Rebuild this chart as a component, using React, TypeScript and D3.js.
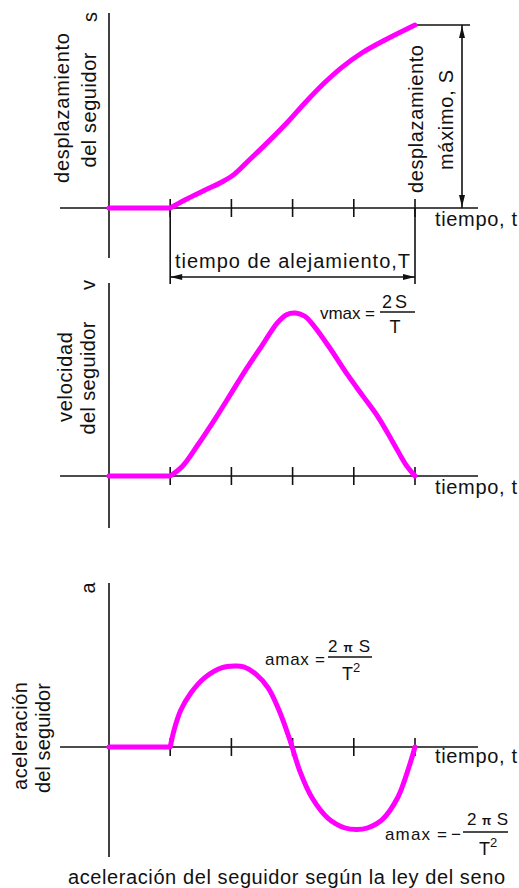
import React from "react";
import * as d3 from "d3";

// Time axis (in quarter-periods of the rise, T spans t = 1 .. 5)
const tickTimes = [1, 2, 3, 4, 5];

// Follower displacement, as a fraction of the maximum rise S
const dispT = [0, 1, 1.24, 1.57, 1.86, 2.05, 2.3, 2.55, 2.92, 3.2, 3.53, 3.81, 4.13, 4.51, 5.0];
const dispS = [0, 0, 0.044, 0.098, 0.145, 0.185, 0.265, 0.345, 0.47, 0.574, 0.687, 0.77, 0.847, 0.918, 1.0];

// Follower velocity, as a fraction of vmax
const velT = [0, 1, 1.2, 1.45, 1.75, 2.0, 2.25, 2.5, 2.75, 2.9, 3.05, 3.2, 3.35, 3.6, 3.9, 4.15, 4.4, 4.65, 4.85, 5.0];
const velV = [0, 0, 0.06, 0.19, 0.36, 0.51, 0.66, 0.8, 0.94, 0.99, 1.0, 0.98, 0.92, 0.79, 0.62, 0.49, 0.36, 0.2, 0.07, 0];

// Follower acceleration, as a fraction of amax
const accT = [0, 1, 1.06, 1.17, 1.34, 1.57, 1.85, 2.05, 2.2, 2.4, 2.6, 2.78, 2.95, 3.12, 3.32, 3.58, 3.86, 4.05, 4.22, 4.46, 4.72, 4.9, 5.0];
const accA = [0, 0, 0.2, 0.45, 0.67, 0.86, 0.98, 1.0, 0.99, 0.9, 0.73, 0.45, 0.1, -0.3, -0.63, -0.88, -1.0, -1.02, -1.0, -0.9, -0.62, -0.25, 0];

const W = 519;
const H = 888;
const FONT = "'Liberation Sans', Arial, sans-serif";
const MAGENTA = "#ff00ff";
const INK = "#111";

const x = d3.scaleLinear().domain([0, 5]).range([109, 415]);
const yDisp = d3.scaleLinear().domain([0, 1]).range([208, 25]);
const yVel = d3.scaleLinear().domain([0, 1]).range([476, 313]);
const yAcc = d3.scaleLinear().domain([-1, 1]).range([828, 666]);

const xLeft = x(-0.8);
const xRight = x(6.03);

// Dwell (straight, while the follower rests) followed by a smooth rise curve
function curvePath(ts: number[], vs: number[], y: d3.ScaleLinear<number, number>) {
  const pts = ts.map((t, i) => [t, vs[i]] as [number, number]);
  const dwell = pts.filter((p) => p[0] <= 1);
  const rise = pts.filter((p) => p[0] >= 1);
  const straight = d3
    .line<[number, number]>()
    .x((d) => x(d[0]))
    .y((d) => y(d[1]))(dwell) as string;
  const smooth = d3
    .line<[number, number]>()
    .x((d) => x(d[0]))
    .y((d) => y(d[1]))
    .curve(d3.curveCatmullRom.alpha(0.5))(rise) as string;
  return straight + smooth.replace(/^M/, "L");
}

type TxtProps = {
  x: number;
  y: number;
  len?: number;
  size?: number;
  rot?: boolean;
  anchor?: "start" | "middle" | "end";
  children: React.ReactNode;
};

function Txt({ x: tx, y: ty, len, size = 20, rot, anchor = "start", children }: TxtProps) {
  return (
    <text
      transform={`translate(${tx},${ty})${rot ? " rotate(-90)" : ""}`}
      fontFamily={FONT}
      fontSize={size}
      fill={INK}
      textAnchor={anchor}
      textLength={len}
      lengthAdjust={len ? "spacing" : undefined}
    >
      {children}
    </text>
  );
}

function Panel({ y0, yTop, yBottom }: { y0: number; yTop: number; yBottom: number }) {
  return (
    <g stroke={INK} strokeWidth={1.6} fill="none">
      <line x1={x(0)} x2={x(0)} y1={yTop} y2={yBottom} />
      <line x1={xLeft} x2={xRight} y1={y0} y2={y0} />
      {tickTimes.map((t) => (
        <line key={t} x1={x(t)} x2={x(t)} y1={y0 - 9} y2={y0 + 9} />
      ))}
    </g>
  );
}

const curveStyle = {
  stroke: MAGENTA,
  strokeWidth: 5,
  fill: "none",
  strokeLinecap: "round" as const,
  strokeLinejoin: "round" as const,
};

export default function App() {
  const y0d = yDisp(0);
  const y0v = yVel(0);
  const y0a = yAcc(0);
  const dimY = 277;
  const sTop = yDisp(1);
  const dimX = 462;

  return (
    <svg
      width={W}
      height={H}
      viewBox={`0 0 ${W} ${H}`}
      style={{ position: "absolute", left: 0, top: 0, background: "#fff" }}
    >
      <rect width={W} height={H} fill="#fff" />

      {/* Displacement panel */}
      <Panel y0={y0d} yTop={13} yBottom={258} />
      <g stroke={INK} strokeWidth={1.6} fill="none">
        {/* extension lines for the rise period T */}
        <line x1={x(1)} x2={x(1)} y1={y0d} y2={284} />
        <line x1={x(5)} x2={x(5)} y1={y0d} y2={284} />
        <line x1={x(1)} x2={x(5)} y1={dimY} y2={dimY} />
        {/* dimension for the maximum rise S */}
        <line x1={x(5)} x2={470} y1={sTop} y2={sTop} />
        <line x1={dimX} x2={dimX} y1={sTop} y2={y0d} />
      </g>
      <g fill={INK}>
        <path d={`M${x(1)},${dimY} l12,-3 l0,6 Z`} />
        <path d={`M${x(5)},${dimY} l-12,-3 l0,6 Z`} />
        <path d={`M${dimX},${sTop + 1} l-3,12 l6,0 Z`} />
        <path d={`M${dimX},${y0d - 1} l-3,-12 l6,0 Z`} />
      </g>
      <path d={curvePath(dispT, dispS, yDisp)} {...curveStyle} />

      <Txt x={97} y={17} rot anchor="middle">s</Txt>
      <Txt x={69} y={108} rot anchor="middle" len={150}>desplazamiento</Txt>
      <Txt x={96} y={110} rot anchor="middle" len={115}>del seguidor</Txt>
      <Txt x={423} y={119} rot anchor="middle" len={148}>desplazamiento</Txt>
      <Txt x={453} y={120} rot anchor="middle" len={100}>máximo, S</Txt>
      <Txt x={435} y={226} len={82}>tiempo, t</Txt>
      <Txt x={175} y={268} len={235}>tiempo de alejamiento,T</Txt>

      {/* Velocity panel */}
      <Panel y0={y0v} yTop={283} yBottom={528} />
      <path d={curvePath(velT, velV, yVel)} {...curveStyle} />
      <Txt x={95} y={285} rot anchor="middle">v</Txt>
      <Txt x={72} y={377} rot anchor="middle" len={90}>velocidad</Txt>
      <Txt x={95} y={378} rot anchor="middle" len={113}>del seguidor</Txt>
      <Txt x={435} y={494} len={82}>tiempo, t</Txt>
      <Txt x={320} y={319} len={55} size={17}>vmax =</Txt>
      <Txt x={382} y={308} len={25} size={18}>2S</Txt>
      <line x1={380} x2={415} y1={312} y2={312} stroke={INK} strokeWidth={1.5} />
      <Txt x={395} y={333} anchor="middle" size={18}>T</Txt>

      {/* Acceleration panel */}
      <Panel y0={y0a} yTop={583} yBottom={857} />
      <path d={curvePath(accT, accA, yAcc)} {...curveStyle} />
      <Txt x={95} y={588} rot anchor="middle">a</Txt>
      <Txt x={27} y={736} rot anchor="middle" len={108}>aceleración</Txt>
      <Txt x={50} y={738} rot anchor="middle" len={110}>del seguidor</Txt>
      <Txt x={435} y={763} len={82}>tiempo, t</Txt>

      <Txt x={265} y={665} len={60} size={17}>amax =</Txt>
      <Txt x={328} y={652} len={42} size={17}>
        2 <tspan fontWeight="bold" fontSize={12}>π</tspan> S
      </Txt>
      <line x1={328} x2={372} y1={657} y2={657} stroke={INK} strokeWidth={1.5} />
      <Txt x={342} y={680} size={18}>
        T<tspan fontSize={13} dy={-8}>2</tspan>
      </Txt>

      <Txt x={385} y={840} len={62} size={17}>amax =</Txt>
      <Txt x={451} y={840} size={17}>−</Txt>
      <Txt x={467} y={825} len={41} size={17}>
        2 <tspan fontWeight="bold" fontSize={12}>π</tspan> S
      </Txt>
      <line x1={463} x2={508} y1={832} y2={832} stroke={INK} strokeWidth={1.5} />
      <Txt x={479} y={855} size={18}>
        T<tspan fontSize={13} dy={-8}>2</tspan>
      </Txt>

      <Txt x={68} y={884} len={437} size={20}>aceleración del seguidor según la ley del seno</Txt>
    </svg>
  );
}
